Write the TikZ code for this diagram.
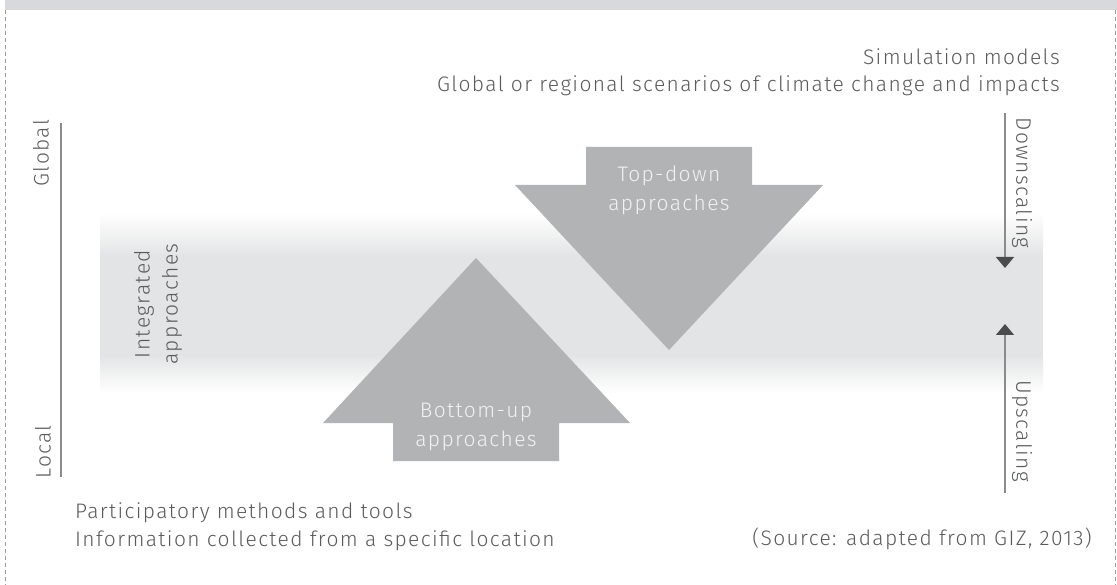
\documentclass[tikz,border=0pt]{standalone}
\usepackage{fontspec}
\usetikzlibrary{arrows.meta}
\IfFontExistsTF{Fira Sans Light}{\setmainfont{Fira Sans Light}[LetterSpace=6.5]}{\setmainfont{Fira Sans}[LetterSpace=6.5]}
\definecolor{hdrgray}{HTML}{D8D9DA}
\definecolor{bandgray}{HTML}{E3E4E5}
\definecolor{arrowgray}{HTML}{B2B3B5}
\definecolor{txtgray}{HTML}{5A5B5D}
\definecolor{axisgray}{HTML}{8A8B8C}
\definecolor{tipgray}{HTML}{4A4B4C}
\definecolor{bordergray}{HTML}{9A9B9C}
\definecolor{lbl}{HTML}{F2F2F2}
\begin{document}
\begin{tikzpicture}[x=1pt,y=-1pt,
  txt/.style={font=\fontsize{21}{28}\selectfont, text=txtgray, inner sep=0pt},
  arrlabel/.style={font=\fontsize{21}{29}\selectfont, text=lbl, inner sep=0pt, align=center},
  bigarrow/.style={fill=arrowgray, draw=none},
  axisline/.style={draw=axisgray, line width=1.5pt},
  scalearrow/.style={draw=axisgray, line width=1.3pt, -{Triangle[width=18pt,length=11pt,fill=tipgray,color=tipgray]}},
  border/.style={draw=bordergray, line width=0.9pt, dash pattern=on 4pt off 3pt}
]
\useasboundingbox (0,0) rectangle (1117,585);
% header bar and dashed frame
\fill[hdrgray] (5,0) rectangle (1117,10);
\draw[border] (5,10) -- (5,585);
\draw[border] (1115,10) -- (1115,585);
% band
\shade[top color=white, bottom color=bandgray] (100,213) rectangle (1043,256);
\fill[bandgray] (100,255) rectangle (1043,356);
\shade[top color=bandgray, bottom color=white] (100,355) rectangle (1043,393);
% big arrows
\path[bigarrow] (586,147) -- (752,147) -- (752,185) -- (823,185) -- (669,350) -- (515,185) -- (586,185) -- cycle;
\path[bigarrow] (393,461) -- (559,461) -- (559,423) -- (630,423) -- (476,258) -- (323,423) -- (393,423) -- cycle;
\node[arrlabel] (td) at (669,190) {Top-down\\approaches};
\node[arrlabel] (bu) at (476,427) {Bottom-up\\approaches};
% left axis
\coordinate (atop) at (61,123);
\coordinate (abot) at (61,477);
\draw[axisline] (atop) -- (abot);
\node[txt, rotate=90] (global) at (41,153) {Global};
\node[txt, rotate=90] (local) at (43,452) {Local};
\node[txt, rotate=90, align=center] (integ) at (158,304) {Integrated\\approaches};
% right arrows
\coordinate (dtop) at (1005,113);
\coordinate (dbot) at (1005,268);
\coordinate (ubot) at (1005,493);
\coordinate (utop) at (1005,324);
\draw[scalearrow] (dtop) -- (dbot);
\draw[scalearrow] (ubot) -- (utop);
\node[txt, rotate=-90] (down) at (1022,183) {Downscaling};
\node[txt, rotate=-90] (up) at (1022,431) {Upscaling};
% texts
\node[txt, anchor=mid east] (sim) at (1060,62) {Simulation models};
\node[txt, anchor=mid east] (glob) at (1060,89) {Global or regional scenarios of climate change and impacts};
\node[txt, anchor=mid west] (part) at (75,516) {Participatory methods and tools};
\node[txt, anchor=mid west] (info) at (75,544) {Information collected from a specific location};
\node[txt, anchor=mid east] (src) at (1092,543) {(Source: adapted from GIZ, 2013)};
\end{tikzpicture}
\end{document}
